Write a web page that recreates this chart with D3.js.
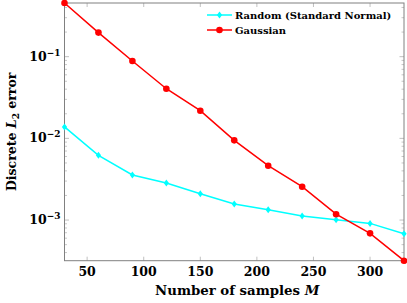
<!DOCTYPE html>
<html lang="en">
<head>
<meta charset="UTF-8">
<title>Discrete L2 error</title>
<script src="https://cdn.jsdelivr.net/npm/d3@7"></script>
<style>
    body { margin: 0; background: #fff; }
    text { font-family: "DejaVu Serif", serif; fill: #000; }
</style>
</head>
<body>
<div id="main"></div>
<script>
    const samples = [30, 60, 90, 120, 150, 180, 210, 240, 270, 300, 330];
    const randomErr = [0.0138, 0.0062, 0.00356, 0.00284, 0.0021, 0.00157, 0.00134, 0.00112, 0.00101, 0.00091, 0.00068];
    const gaussErr = [0.454, 0.197, 0.0886, 0.0405, 0.0218, 0.00946, 0.00463, 0.00256, 0.00118, 0.000687, 0.000318];
    const xTicks = [50, 100, 150, 200, 250, 300];
    const yTicks = [1e-3, 1e-2, 1e-1];
    const yTickExp = ["\u22123", "\u22122", "\u22121"];
    const seriesNames = ["Random (Standard Normal)", "Gaussian"];
    const seriesColors = ["#00ffff", "#ff0000"];

    const w = 407, h = 303;
    const pL = 64.5, pR = 404, pT = 3, pB = 260.7;

    const svg = d3.select("#main").append("svg")
        .attr("width", w).attr("height", h);

    const x = d3.scaleLinear().domain([30, 330]).range([pL, pR]);
    const allVals = randomErr.concat(gaussErr);
    const y = d3.scaleLog().domain(d3.extent(allVals)).range([pB, pT]);

    // minor log ticks
    const minor = [];
    for (let e = -4; e <= 0; e++) {
        for (let m = 2; m <= 9; m++) {
            const v = m * Math.pow(10, e);
            if (v >= y.domain()[0] && v <= y.domain()[1]) minor.push(v);
        }
    }

    const tickCol = "#b0b0b0";
    const g = svg.append("g");
    // x ticks bottom + top
    g.selectAll(".xt").data(xTicks).enter().append("path")
        .attr("d", d => `M${x(d)},${pB}v-4M${x(d)},${pT}v4`)
        .attr("stroke", tickCol).attr("stroke-width", 0.8);
    g.selectAll(".ym").data(minor).enter().append("path")
        .attr("d", d => `M${pL},${y(d)}h2.5M${pR},${y(d)}h-2.5`)
        .attr("stroke", tickCol).attr("stroke-width", 0.7);
    g.selectAll(".yt").data(yTicks).enter().append("path")
        .attr("d", d => `M${pL},${y(d)}h4.5M${pR},${y(d)}h-4.5`)
        .attr("stroke", tickCol).attr("stroke-width", 0.8);

    svg.append("rect")
        .attr("x", pL).attr("y", pT)
        .attr("width", pR - pL).attr("height", pB - pT)
        .attr("fill", "none").attr("stroke", "#808080").attr("stroke-width", 1);

    // tick labels
    svg.selectAll(".xl").data(xTicks).enter().append("text")
        .attr("x", d => x(d)).attr("y", pB + 15)
        .attr("text-anchor", "middle")
        .style("font-size", "12.5px").style("font-weight", "bold")
        .text(d => d);

    const yl = svg.selectAll(".yl").data(yTicks).enter().append("text")
        .attr("x", pL - 4).attr("y", d => y(d) + 4)
        .attr("text-anchor", "end")
        .style("font-size", "12.5px").style("font-weight", "bold");
    yl.append("tspan").text("10");
    yl.append("tspan").attr("dy", -5).style("font-size", "9px")
        .text((d, i) => yTickExp[i]);

    // axis labels
    const xlab = svg.append("text")
        .attr("x", (pL + pR) / 2 + 3).attr("y", 295)
        .attr("text-anchor", "middle")
        .style("font-size", "13.3px").style("font-weight", "bold");
    xlab.append("tspan").text("Number of samples ");
    xlab.append("tspan").style("font-style", "italic").text("M");

    const ylab = svg.append("text")
        .attr("transform", `translate(16,${(pT + pB) / 2}) rotate(-90)`)
        .attr("text-anchor", "middle")
        .style("font-size", "12.5px").style("font-weight", "bold");
    ylab.append("tspan").text("Discrete ");
    ylab.append("tspan").style("font-style", "italic").text("L");
    ylab.append("tspan").attr("dy", 3).style("font-size", "9px").text("2");
    ylab.append("tspan").attr("dy", -3).text(" error");

    // series
    const line = d3.line().x((d, i) => x(samples[i])).y(d => y(d));
    const diamond = (cx, cy) => `M${cx},${cy - 3.5}L${cx + 2.6},${cy}L${cx},${cy + 3.5}L${cx - 2.6},${cy}Z`;

    const series = [randomErr, gaussErr];
    series.forEach((vals, k) => {
        svg.append("path").datum(vals)
            .attr("d", line)
            .attr("fill", "none")
            .attr("stroke", seriesColors[k]).attr("stroke-width", 1.5);
        if (k === 0) {
            svg.selectAll(".pt0").data(vals).enter().append("path")
                .attr("d", (d, i) => diamond(x(samples[i]), y(d)))
                .attr("fill", seriesColors[k]);
        } else {
            svg.selectAll(".pt1").data(vals).enter().append("circle")
                .attr("cx", (d, i) => x(samples[i])).attr("cy", d => y(d))
                .attr("r", 3.3).attr("fill", seriesColors[k]);
        }
    });

    // legend
    seriesNames.forEach((name, k) => {
        const ly = 15 + k * 15;
        svg.append("line")
            .attr("x1", 207).attr("x2", 232).attr("y1", ly).attr("y2", ly)
            .attr("stroke", seriesColors[k]).attr("stroke-width", 1.5);
        if (k === 0) {
            svg.append("path").attr("d", diamond(219.5, ly)).attr("fill", seriesColors[k]);
        } else {
            svg.append("circle").attr("cx", 219.5).attr("cy", ly).attr("r", 3.3)
                .attr("fill", seriesColors[k]);
        }
        svg.append("text")
            .attr("x", 235).attr("y", ly + 3.5)
            .style("font-size", "10px").style("font-weight", "bold")
            .text(name);
    });
</script>
</body>
</html>
